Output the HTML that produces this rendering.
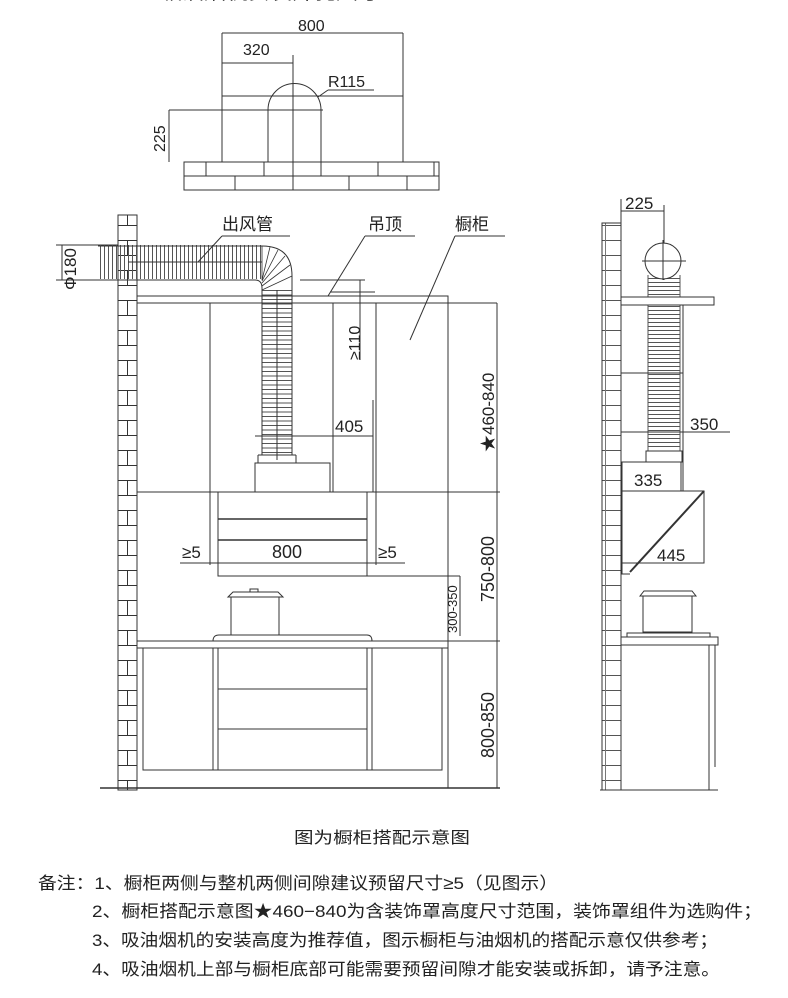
<!DOCTYPE html>
<html><head><meta charset="utf-8"><style>
html,body{margin:0;padding:0;background:#fff;}
svg{display:block;}
text{font-family:"Liberation Sans","Noto Sans CJK SC",sans-serif;fill:#222;}
</style></head><body>
<svg width="788" height="998" viewBox="0 0 788 998" xmlns="http://www.w3.org/2000/svg">
<defs>
<pattern id="brick" x="118" y="0" width="19" height="30" patternUnits="userSpaceOnUse">
<rect width="19" height="30" fill="#fff"/>
<line x1="0" y1="0.5" x2="19" y2="0.5" stroke="#333" stroke-width="1"/>
<line x1="0" y1="15.5" x2="19" y2="15.5" stroke="#333" stroke-width="1"/>
<line x1="9.5" y1="0" x2="9.5" y2="15" stroke="#333" stroke-width="1"/>
</pattern>
<pattern id="brick2" x="602" y="0" width="19" height="30" patternUnits="userSpaceOnUse">
<rect width="19" height="30" fill="#fff"/>
<line x1="0" y1="0.5" x2="19" y2="0.5" stroke="#555" stroke-width="1"/>
<line x1="0" y1="15.5" x2="19" y2="15.5" stroke="#555" stroke-width="1"/>
<line x1="3.5" y1="0" x2="3.5" y2="30" stroke="#777" stroke-width="1"/>
</pattern>
</defs>
<text x="160" y="-1" font-size="22">吸油烟机安装开孔尺寸</text>

<!-- top drawing -->
<g stroke="#333" stroke-width="1" fill="none">
<line x1="222" y1="33" x2="403" y2="33"/>
<line x1="222" y1="63" x2="293" y2="63"/>
<line x1="222" y1="33" x2="222" y2="162"/>
<line x1="403" y1="33" x2="403" y2="162"/>
<line x1="222" y1="96" x2="403" y2="96"/>
<line x1="293" y1="55" x2="293" y2="190"/>
<path d="M268 162 V110 A26.5 26.5 0 0 1 321 110 V162"/>
<line x1="169" y1="110" x2="323" y2="110"/>
<line x1="169" y1="110" x2="169" y2="162"/>
<line x1="328" y1="90" x2="374" y2="90"/>
<line x1="328" y1="90" x2="318" y2="97"/>
<rect x="184" y="162" width="255" height="28"/>
<line x1="184" y1="176" x2="439" y2="176"/>
<line x1="206" y1="162" x2="206" y2="176"/><line x1="264" y1="162" x2="264" y2="176"/><line x1="321" y1="162" x2="321" y2="176"/><line x1="378" y1="162" x2="378" y2="176"/><line x1="434" y1="162" x2="434" y2="176"/>
<line x1="235" y1="176" x2="235" y2="190"/><line x1="349" y1="176" x2="349" y2="190"/><line x1="407" y1="176" x2="407" y2="190"/>
</g>
<text x="298" y="31" font-size="16">800</text>
<text x="243" y="55" font-size="16">320</text>
<text x="328" y="87" font-size="16">R115</text>
<text transform="translate(165,152) rotate(-90)" font-size="16">225</text>

<!-- main drawing -->
<rect x="118" y="215" width="19" height="575" fill="url(#brick)" stroke="#333"/>
<g stroke="#333" stroke-width="1" fill="none">
<rect x="137" y="296" width="311" height="7" fill="#fff"/>
<line x1="137" y1="303" x2="497" y2="303"/>
<line x1="210" y1="303" x2="210" y2="492"/>
<line x1="333" y1="303" x2="333" y2="492"/>
<line x1="376" y1="303" x2="376" y2="492"/>
<line x1="448" y1="303" x2="448" y2="492"/>
<line x1="497" y1="303" x2="497" y2="788"/>
<line x1="137" y1="492" x2="500" y2="492"/>
<rect x="255" y="463" width="75" height="29"/>
<rect x="218" y="492" width="149" height="84"/>
<line x1="218" y1="519" x2="367" y2="519" stroke-width="1.5"/>
<line x1="218" y1="540" x2="367" y2="540" stroke-width="1.5"/>
<line x1="218" y1="563" x2="367" y2="563"/>
<line x1="180" y1="563" x2="218" y2="563"/>
<line x1="367" y1="563" x2="405" y2="563"/>
<line x1="210" y1="492" x2="210" y2="565"/>
<line x1="376" y1="492" x2="376" y2="565"/>
<line x1="367" y1="576" x2="460" y2="576"/>
<line x1="460" y1="576" x2="460" y2="636"/>
<line x1="255" y1="436" x2="373" y2="436"/>
<line x1="373" y1="400" x2="373" y2="492"/>
<line x1="300" y1="280" x2="365" y2="280"/>
<line x1="360" y1="280" x2="360" y2="360"/>
<line x1="330" y1="292" x2="375" y2="292"/>
<line x1="448" y1="303" x2="448" y2="788"/>
<line x1="137" y1="641" x2="500" y2="641"/>
<line x1="137" y1="648" x2="448" y2="648"/>
<path d="M213 641 Q213 635 219 635 H367 Q372 635 372 641"/>
<rect x="231" y="597" width="48" height="38"/>
<path d="M228 597 L233 592 H278 L283 597 Z"/>
<rect x="250" y="589" width="8" height="3"/>
<rect x="143" y="648" width="299" height="122"/>
<line x1="213" y1="648" x2="213" y2="770"/><line x1="218" y1="648" x2="218" y2="770"/>
<line x1="367" y1="648" x2="367" y2="770"/><line x1="372" y1="648" x2="372" y2="770"/>
<line x1="218" y1="689" x2="367" y2="689"/>
<line x1="218" y1="729" x2="367" y2="729"/>
<line x1="100" y1="788" x2="500" y2="788" stroke-width="1.5"/>
<line x1="56" y1="245" x2="118" y2="245"/>
<line x1="56" y1="280" x2="118" y2="280"/>
<line x1="62" y1="245" x2="62" y2="280"/>
</g>
<!-- duct -->
<g fill="none" stroke="#333">
<line x1="100" y1="262" x2="262" y2="262" stroke-width="34" stroke-dasharray="1 3" stroke="#555"/>
<line x1="277" y1="290" x2="277" y2="455" stroke-width="30" stroke-dasharray="1 3.5" stroke="#555"/>
<path d="M98 246 H262 Q292 246 292 276 V455 M98 280 H255 Q262 280 262 288 V455" stroke-width="1"/>
<path d="M262 246 L262 280 M270 247 L262 280 M278 250 L262 281 M285 256 L262 283 M290 265 L262 286 M292 276 L262 290" stroke-width="0.8"/>
<line x1="258" y1="455" x2="296" y2="455"/>
<line x1="258" y1="455" x2="258" y2="463"/><line x1="296" y1="455" x2="296" y2="463"/>
<line x1="277" y1="290" x2="277" y2="460"/>
<line x1="128" y1="262" x2="262" y2="262"/>
</g>
<g stroke="#333" fill="none">
<line x1="222" y1="236" x2="290" y2="236"/><line x1="222" y1="236" x2="198" y2="262"/>
<line x1="365" y1="236" x2="415" y2="236"/><line x1="365" y1="236" x2="328" y2="296"/>
<line x1="455" y1="236" x2="505" y2="236"/><line x1="455" y1="236" x2="410" y2="340"/>
</g>
<text x="222" y="230" font-size="17">出风管</text>
<text x="368" y="230" font-size="17">吊顶</text>
<text x="455" y="230" font-size="17">橱柜</text>
<text transform="translate(76,290) rotate(-90)" font-size="17">Φ180</text>
<text transform="translate(360,360) rotate(-90)" font-size="16">≥110</text>
<text x="335" y="432" font-size="17">405</text>
<text transform="translate(494,452) rotate(-90)" font-size="17">★460-840</text>
<text transform="translate(494,602) rotate(-90)" font-size="18">750-800</text>
<text transform="translate(457,633) rotate(-90)" font-size="13">300-350</text>
<text transform="translate(494,758) rotate(-90)" font-size="18">800-850</text>
<text x="182" y="558" font-size="17">≥5</text>
<text x="272" y="558" font-size="18">800</text>
<text x="378" y="558" font-size="17">≥5</text>

<!-- right drawing -->
<rect x="602" y="223" width="19" height="567" fill="url(#brick2)" stroke="#333"/>
<g stroke="#333" fill="none">
<line x1="621" y1="199" x2="621" y2="223"/>
<line x1="621" y1="211" x2="664" y2="211"/>
<line x1="664" y1="205" x2="664" y2="280"/>
<line x1="648" y1="275" x2="648" y2="451" stroke="#555"/>
<line x1="680" y1="275" x2="680" y2="451" stroke="#555"/>
<line x1="664" y1="278" x2="664" y2="450" stroke-width="32" stroke-dasharray="1 3" stroke="#555"/>
<circle cx="663" cy="261" r="18" fill="#fff"/>
<line x1="642" y1="261" x2="686" y2="261"/>
<line x1="663" y1="240" x2="663" y2="280"/>
<rect x="621" y="297" width="93" height="8" fill="#fff"/>
<line x1="683" y1="305" x2="683" y2="491"/>
<line x1="621" y1="373" x2="683" y2="373"/>
<line x1="621" y1="432" x2="730" y2="432"/>
<rect x="646" y="451" width="36" height="11"/>
<rect x="622" y="462" width="59" height="29"/>
<rect x="622" y="491" width="82" height="72"/>
<line x1="704" y1="491" x2="630" y2="572" stroke-width="2"/>
<path d="M622 563 V574 H630"/>
<rect x="643" y="596" width="49" height="36"/>
<path d="M640 596 L644 591 H692 L696 596 Z"/>
<path d="M627 637 V633 H710 V637"/>
<rect x="621" y="637" width="97" height="8"/>
<line x1="709" y1="645" x2="709" y2="790"/>
<line x1="715" y1="645" x2="715" y2="767"/>
<line x1="600" y1="790" x2="718" y2="790"/>
</g>
<text x="625" y="209" font-size="17">225</text>
<text x="690" y="430" font-size="17">350</text>
<text x="634" y="486" font-size="17">335</text>
<text x="657" y="561" font-size="17">445</text>

<!-- captions -->
<text x="294" y="843" font-size="16" textLength="176" lengthAdjust="spacingAndGlyphs" fill="#333">图为橱柜搭配示意图</text>
<text x="38" y="889" font-size="17" textLength="520" lengthAdjust="spacingAndGlyphs">备注：1、橱柜两侧与整机两侧间隙建议预留尺寸≥5（见图示）</text>
<text x="92" y="917" font-size="17" textLength="670" lengthAdjust="spacingAndGlyphs">2、橱柜搭配示意图★460−840为含装饰罩高度尺寸范围，装饰罩组件为选购件；</text>
<text x="92" y="946" font-size="17" textLength="626" lengthAdjust="spacingAndGlyphs">3、吸油烟机的安装高度为推荐值，图示橱柜与油烟机的搭配示意仅供参考；</text>
<text x="92" y="975" font-size="17" textLength="628" lengthAdjust="spacingAndGlyphs">4、吸油烟机上部与橱柜底部可能需要预留间隙才能安装或拆卸，请予注意。</text>
</svg>
</body></html>
